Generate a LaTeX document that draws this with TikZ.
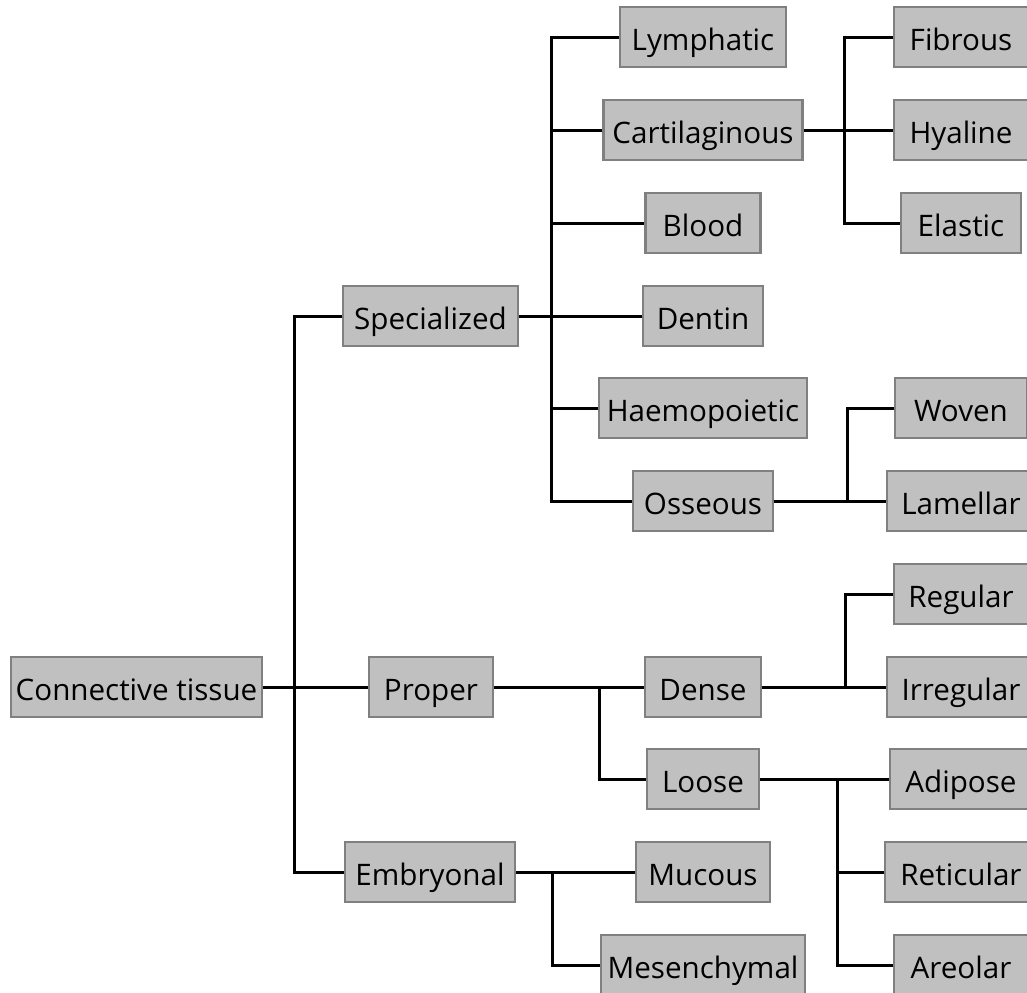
\documentclass[tikz,border=0pt]{standalone}
\usepackage{fontspec}
\setmainfont{Open Sans}
\usepackage{tikz}
\usetikzlibrary{positioning}
\definecolor{boxgray}{RGB}{192,192,192}
\definecolor{rimgray}{RGB}{128,128,128}

\begin{document}
\begin{tikzpicture}[x=0.5pt,y=-0.5pt,
          tissue/.style={rectangle,draw=rimgray,line width=1.2pt,fill=boxgray,
            minimum height=30pt,inner sep=0pt,text height=13.6pt,text depth=0pt,
            font=\fontsize{14.8}{17}\selectfont},
          link/.style={line width=1.5pt,black}]
          \useasboundingbox (0,0) rectangle (1027,992);
          \clip (0,0) rectangle (1027,992);
          % left and second column
          \node[tissue,minimum width=125.5pt] (ct)    at (136.5,687) {Connective tissue};
          \node[tissue,minimum width=87.5pt]  (spec)  at (430.5,316) {Specialized};
          \node[tissue,minimum width=62pt]    (prop)  at (431,687)   {Proper};
          \node[tissue,minimum width=85pt]    (embr)  at (430,872)   {Embryonal};
          % middle column
          \node[tissue,minimum width=83pt]    (lymph) at (703,37)    {Lymphatic};
          \node[tissue,minimum width=99.5pt]  (cart)  at (703,130)   {Cartilaginous};
          \node[tissue,minimum width=57.5pt]  (blood) at (703,223)   {Blood};
          \node[tissue,minimum width=60pt]    (dent)  at (703,316)   {Dentin};
          \node[tissue,minimum width=104pt]   (haem)  at (703,408)   {Haemopoietic};
          \node[tissue,minimum width=70pt]    (oss)   at (703,501)   {Osseous};
          \node[tissue,minimum width=58pt]    (dense) at (703,687)   {Dense};
          \node[tissue,minimum width=56pt]    (loose) at (703,779)   {Loose};
          \node[tissue,minimum width=67pt]    (muc)   at (703,872)   {Mucous};
          \node[tissue,minimum width=102pt]   (mes)   at (703,965)   {Mesenchymal};
          % right column
          \node[tissue,minimum width=67pt]    (fib)   at (961,37)    {Fibrous};
          \node[tissue,minimum width=67pt]    (hya)   at (961,130)   {Hyaline};
          \node[tissue,minimum width=60pt]    (ela)   at (961,223)   {Elastic};
          \node[tissue,minimum width=66pt]    (wov)   at (961,408)   {Woven};
          \node[tissue,minimum width=74pt]    (lam)   at (961,501)   {Lamellar};
          \node[tissue,minimum width=67pt]    (reg)   at (961,594)   {Regular};
          \node[tissue,minimum width=74pt]    (irr)   at (961,687)   {Irregular};
          \node[tissue,minimum width=71pt]    (adi)   at (961,779)   {Adipose};
          \node[tissue,minimum width=76pt]    (ret)   at (961,872)   {Reticular};
          \node[tissue,minimum width=67pt]    (are)   at (961,965)   {Areolar};
          % junctions
          \coordinate (j0) at (294,687);
          \coordinate (j1) at (551,316);
          \coordinate (j2) at (844,130);
          \coordinate (j3) at (847,501);
          \coordinate (j4) at (599,687);
          \coordinate (j5) at (845,687);
          \coordinate (j6) at (837,779);
          \coordinate (j7) at (552,872);
          \draw[link] (ct.east)--(j0)--(prop.west);
          \draw[link] (j0) |- (spec.west);
          \draw[link] (j0) |- (embr.west);
          \draw[link] (spec.east)--(j1)--(dent.west);
          \draw[link] (j1) |- (lymph.west);
          \draw[link] (j1) |- (cart.west);
          \draw[link] (j1) |- (blood.west);
          \draw[link] (j1) |- (haem.west);
          \draw[link] (j1) |- (oss.west);
          \draw[link] (cart.east)--(j2)--(hya.west);
          \draw[link] (j2) |- (fib.west);
          \draw[link] (j2) |- (ela.west);
          \draw[link] (oss.east)--(j3)--(lam.west);
          \draw[link] (j3) |- (wov.west);
          \draw[link] (prop.east)--(j4)--(dense.west);
          \draw[link] (j4) |- (loose.west);
          \draw[link] (dense.east)--(j5)--(irr.west);
          \draw[link] (j5) |- (reg.west);
          \draw[link] (loose.east)--(j6)--(adi.west);
          \draw[link] (j6) |- (ret.west);
          \draw[link] (j6) |- (are.west);
          \draw[link] (embr.east)--(j7)--(muc.west);
          \draw[link] (j7) |- (mes.west);
        \end{tikzpicture}
\end{document}
